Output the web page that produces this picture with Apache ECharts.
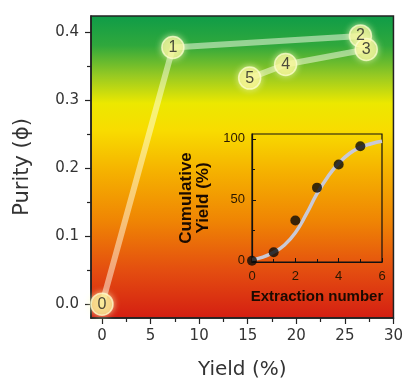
<!DOCTYPE html>
<html><head><meta charset="utf-8">
<script src="https://cdn.jsdelivr.net/npm/echarts@6/dist/echarts.min.js"></script>
<style>html,body{margin:0;padding:0;background:#fff}#c{width:406px;height:385px}</style>
</head><body><div id="c"></div>
<script>
// Main chart data
const stepLabels = ['0', '1', '2', '3', '4', '5'];
const yieldPct = [0, 7.3, 26.6, 27.2, 18.9, 15.2];
const purity = [0.0, 0.377, 0.394, 0.374, 0.352, 0.332];
const xTicks = [0, 5, 10, 15, 20, 25, 30];
const xMinor = [2.5, 7.5, 12.5, 17.5, 22.5, 27.5];
const yTicks = [0, 0.1, 0.2, 0.3, 0.4];
const yMinor = [0.05, 0.15, 0.25, 0.35];
// Inset data
const extraction = [0, 1, 2, 3, 4, 5];
const cumYield = [0, 7, 33, 60, 79, 94];
const fitX = [0, 0.5, 1, 1.5, 2, 2.5, 3, 3.5, 4, 4.5, 5, 5.5, 6];
const fitY = [1, 3, 7, 13, 23, 38, 55, 69, 80, 88, 93, 96, 98];
const insetYTicks = [0, 50, 100];
const insetYMinor = [25, 75];

const FONT = 'DejaVu Sans';
const chart = echarts.init(document.getElementById('c'), null, {renderer: 'canvas'});

const pts = yieldPct.map((x, i) => [x, purity[i], stepLabels[i]]);
const pathA = [0, 1, 2].map(i => pts[i]);
const pathB = [3, 4, 5].map(i => pts[i]);

const bg = {
  type: 'linear', x: 0, y: 0, x2: 0, y2: 1,
  colorStops: [
    {offset: 0, color: '#0e9c48'},
    {offset: 0.1, color: '#30a83c'},
    {offset: 0.2, color: '#98ca22'},
    {offset: 0.29, color: '#ece800'},
    {offset: 0.38, color: '#f8dc00'},
    {offset: 0.52, color: '#f5b000'},
    {offset: 0.68, color: '#ef8404'},
    {offset: 0.84, color: '#e44e10'},
    {offset: 1, color: '#d41e12'}
  ]
};

const lineStyle = {color: 'rgba(255,255,235,0.5)', width: 6, cap: 'round', join: 'round'};
const tickCol = {color: '#222', width: 1.2};

chart.setOption({
  animation: false,
  grid: [
    {left: 91, top: 16, right: 12, bottom: 63, show: true, backgroundColor: bg, borderColor: '#222', borderWidth: 1.5},
    {left: 252, top: 134, right: 24, bottom: 123, show: true, backgroundColor: 'transparent', borderColor: '#111', borderWidth: 1.2}
  ],
  xAxis: [
    {gridIndex: 0, type: 'value', position: 'bottom', min: -1.13, max: 30,
     splitLine: {show: false},
     axisLine: {show: true, onZero: false, lineStyle: {color: '#222', width: 1.5}},
     axisTick: {show: true, inside: false, length: 6, customValues: xTicks, lineStyle: tickCol},
     axisLabel: {show: true, customValues: xTicks, margin: 11, fontFamily: FONT, fontSize: 15, color: '#333'},
     name: 'Yield (%)', nameLocation: 'middle', nameGap: 42,
     nameTextStyle: {fontFamily: FONT, fontSize: 20, color: '#333'}},
    {gridIndex: 0, type: 'value', position: 'bottom', min: -1.13, max: 30,
     splitLine: {show: false}, axisLine: {show: false, onZero: false},
     axisTick: {show: true, inside: false, length: 4, customValues: xMinor, lineStyle: tickCol},
     axisLabel: {show: false}},
    {gridIndex: 1, type: 'value', position: 'bottom', min: 0, max: 6, interval: 2,
     splitLine: {show: false},
     axisLine: {show: true, onZero: false, lineStyle: {color: '#111', width: 1.2}},
     axisTick: {show: true, inside: true, length: 4, lineStyle: {color: '#111'}},
     minorTick: {show: true, splitNumber: 2, length: 3, lineStyle: {color: '#111'}},
     axisLabel: {margin: 8, fontFamily: 'Liberation Sans', fontSize: 13, color: '#2a1800'},
     name: 'Extraction number', nameLocation: 'middle', nameGap: 27,
     nameTextStyle: {fontFamily: 'Liberation Sans', fontWeight: 'bold', fontSize: 15, color: '#1a0a00'}}
  ],
  yAxis: [
    {gridIndex: 0, type: 'value', position: 'left', min: -0.0203, max: 0.4232,
     splitLine: {show: false},
     axisLine: {show: true, onZero: false, lineStyle: {color: '#222', width: 1.5}},
     axisTick: {show: true, inside: false, length: 6, customValues: yTicks, lineStyle: tickCol},
     axisLabel: {show: true, customValues: yTicks, margin: 12, fontFamily: FONT, fontSize: 15, color: '#333',
                 formatter: v => v.toFixed(1)},
     name: 'Purity (ϕ)', nameLocation: 'middle', nameGap: 58,
     nameTextStyle: {fontFamily: FONT, fontSize: 21, color: '#333'}},
    {gridIndex: 0, type: 'value', position: 'left', min: -0.0203, max: 0.4232,
     splitLine: {show: false}, axisLine: {show: false, onZero: false},
     axisTick: {show: true, inside: false, length: 4, customValues: yMinor, lineStyle: tickCol},
     axisLabel: {show: false}},
    {gridIndex: 1, type: 'value', position: 'left', min: -1, max: 104,
     splitLine: {show: false},
     axisLine: {show: true, onZero: false, lineStyle: {color: '#111', width: 1.2}},
     axisTick: {show: true, inside: true, length: 4, customValues: insetYTicks, lineStyle: {color: '#111'}},
     axisLabel: {customValues: insetYTicks, margin: 7, fontFamily: 'Liberation Sans', fontSize: 13, color: '#2a1800'},
     name: 'Cumulative\nYield (%)', nameLocation: 'middle', nameGap: 40,
     nameTextStyle: {fontFamily: 'Liberation Sans', fontWeight: 'bold', fontSize: 17, lineHeight: 17, color: '#1a0a00'}},
    {gridIndex: 1, type: 'value', position: 'left', min: -1, max: 104,
     splitLine: {show: false}, axisLine: {show: false, onZero: false},
     axisTick: {show: true, inside: true, length: 3, customValues: insetYMinor, lineStyle: {color: '#111'}},
     axisLabel: {show: false}}
  ],
  series: [
    {type: 'line', xAxisIndex: 0, yAxisIndex: 0, data: pathA, showSymbol: false, symbol: 'none', lineStyle, z: 2},
    {type: 'line', xAxisIndex: 0, yAxisIndex: 0, data: pathB, showSymbol: false, symbol: 'none', lineStyle, z: 2},
    {type: 'line', xAxisIndex: 2, yAxisIndex: 3, data: fitX.map((x, i) => [x, fitY[i]]), smooth: 0.5,
     symbol: 'none', lineStyle: {color: '#c9c9d6', width: 3.5}, z: 3},
    {type: 'scatter', xAxisIndex: 2, yAxisIndex: 3, data: extraction.map((x, i) => [x, cumYield[i]]),
     symbolSize: 10, itemStyle: {color: '#0a0a0a'}, z: 4},
    {type: 'scatter', xAxisIndex: 0, yAxisIndex: 0, data: pts, symbolSize: 22, z: 5,
     itemStyle: {color: 'rgba(250,246,150,0.82)', borderColor: 'rgba(255,255,210,0.9)', borderWidth: 1.5,
                 shadowBlur: 6, shadowColor: 'rgba(255,255,190,0.9)'},
     label: {show: true, position: 'inside', formatter: p => p.data[2], fontFamily: 'Liberation Sans',
             fontSize: 16, color: '#222'}}
  ]
});
</script></body></html>
